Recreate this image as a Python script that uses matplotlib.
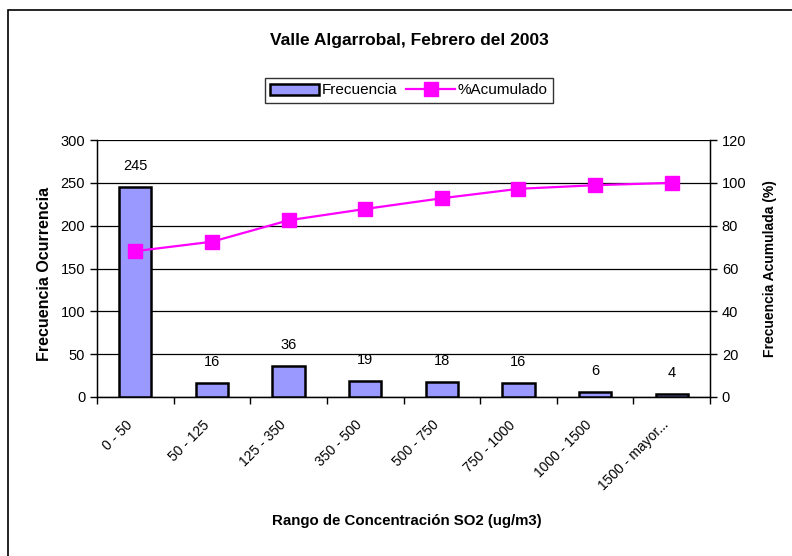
import numpy as np
import matplotlib.pyplot as plt
from matplotlib.patches import Rectangle

plt.rcParams['font.family'] = ['Liberation Sans', 'DejaVu Sans']

categories = ["0 - 50", "50 - 125", "125 - 350", "350 - 500", "500 - 750",
              "750 - 1000", "1000 - 1500", "1500 - mayor..."]
frecuencia = [245, 16, 36, 19, 18, 16, 6, 4]
acumulado = [68.1, 72.5, 82.5, 87.8, 92.8, 97.2, 98.9, 100.0]

fig = plt.figure(figsize=(7.92, 5.56), dpi=100)
fig.patches.append(Rectangle((8 / 792, -0.1), 1.2, 1 - 10 / 556 + 0.1,
                             transform=fig.transFigure, fill=False,
                             edgecolor='black', linewidth=1.2))

ax = fig.add_axes([97 / 792, 1 - 397 / 556, (710 - 97) / 792, (397 - 140) / 556])
x = np.arange(len(categories))
bars = ax.bar(x, frecuencia, width=0.42, color='#9999ff', edgecolor='black',
              linewidth=1.8, zorder=3, label='Frecuencia')
for xi, v in zip(x, frecuencia):
    ax.annotate(str(v), (xi, v), xytext=(0, 15), textcoords='offset points',
                ha='center', va='center', fontsize=10.5)

ax.set_xlim(-0.5, len(categories) - 0.5)
ax.set_ylim(0, 300)
ax.set_yticks(range(0, 301, 50))
ax.grid(axis='y', color='black', linewidth=0.9, zorder=0)
ax.set_axisbelow(True)
ax.set_xticks(np.arange(-0.5, len(categories), 1))
ax.set_xticklabels([])
ax.tick_params(axis='x', direction='out', length=5, width=1)
ax.tick_params(axis='y', direction='out', length=5, width=1, labelsize=10.5)
# rotated category labels, right end just under each category centre
for xi, lab in zip(x, categories):
    ax.annotate(lab, (xi - 0.13, 0), xycoords=('data', 'axes fraction'),
                xytext=(0, -15), textcoords='offset points', rotation=45,
                ha='right', va='top', rotation_mode='anchor', fontsize=10)
ax.spines['top'].set_visible(False)
ax.spines['left'].set_linewidth(1)
ax.spines['bottom'].set_linewidth(1)
ax.set_ylabel('Frecuencia Ocurrencia', fontsize=11.5, fontweight='bold')
ax.yaxis.set_label_coords(-0.074, 0.477)

ax2 = ax.twinx()
line, = ax2.plot(x, acumulado, color='#ff00ff', linewidth=1.6, marker='s',
                 markersize=10.5, label='%Acumulado', zorder=4)
ax2.set_ylim(0, 120)
ax2.set_yticks(range(0, 121, 20))
ax2.tick_params(axis='y', direction='out', length=5, width=1, labelsize=10.5)
ax2.spines['top'].set_visible(False)
ax2.spines['right'].set_linewidth(1)
ax2.set_ylabel('Frecuencia Acumulada (%)', fontsize=10, fontweight='bold', labelpad=12)

fig.text(409 / 792, 1 - 40 / 556, 'Valle Algarrobal, Febrero del 2003',
         ha='center', va='center', fontsize=12.5, fontweight='bold')
fig.text(407 / 792, 1 - 521 / 556, 'Rango de Concentración SO2 (ug/m3)',
         ha='center', va='center', fontsize=10.8, fontweight='bold')

leg = fig.legend([bars, line], ['Frecuencia', '%Acumulado'], loc='center',
                 bbox_to_anchor=(409 / 792, 1 - 90.5 / 556), ncol=2,
                 fontsize=11, frameon=True, fancybox=False, handlelength=3.2,
                 columnspacing=0.6, handletextpad=0.15, borderpad=0.35)
leg.get_frame().set_edgecolor('black')
leg.get_frame().set_linewidth(1)

fig.savefig('out.png', dpi=100)
